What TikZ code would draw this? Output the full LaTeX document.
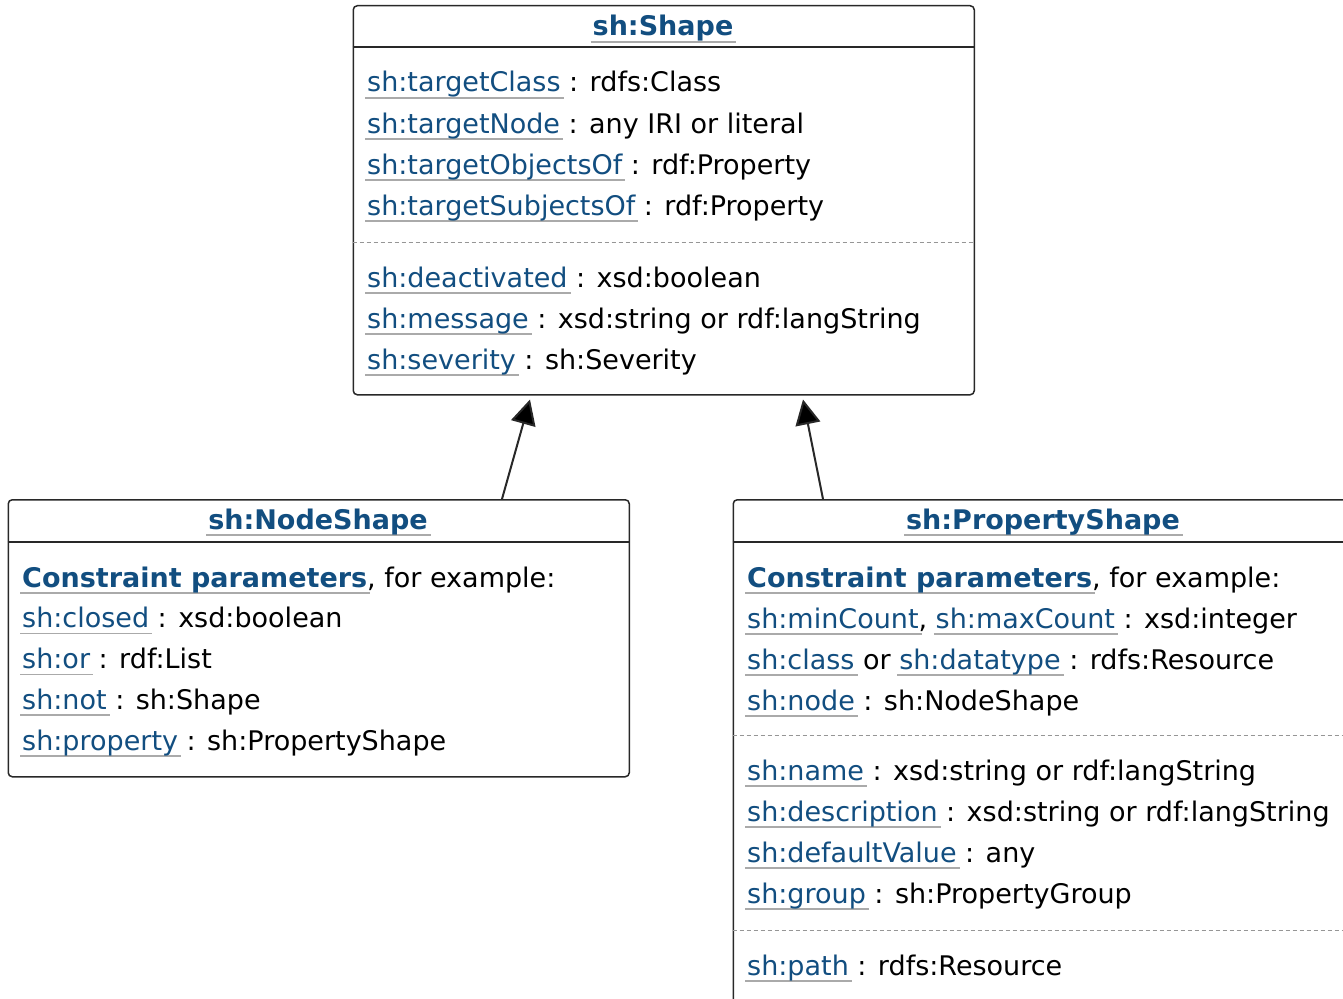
\documentclass[tikz,border=0pt]{standalone}
\usepackage{fontspec}
\setmainfont{DejaVu Sans}
\usetikzlibrary{arrows.meta}
\definecolor{linkc}{RGB}{18,78,128}
\definecolor{ulc}{RGB}{170,170,170}
\definecolor{framec}{RGB}{40,40,40}
\definecolor{dashc}{RGB}{150,150,150}
% underlined link text: the rule overhangs the word slightly on both sides
\newcommand\shlink[1]{\leavevmode\setbox0\hbox{{\color{linkc}#1}}%
  \rlap{\hspace{-2pt}{\color{ulc}\rule[-6.75pt]{\dimexpr\wd0+5pt\relax}{1.5pt}}}\box0\relax}
\newcommand\shlinkb[1]{\shlink{\bfseries #1}}
\tikzset{
  umlbox/.style={draw=framec, line width=1.5pt, rounded corners=4pt, fill=white,
    anchor=north west, minimum width=621pt, inner sep=0pt},
  hdrline/.style={draw=framec, line width=1.5pt},
  sepline/.style={draw=dashc, line width=1pt, dash pattern=on 4pt off 3pt},
  row/.style={anchor=base west, inner sep=0pt, text=black},
  title/.style={anchor=base, inner sep=0pt},
  inherit/.style={draw=framec, line width=2pt, -{Triangle[length=25pt,width=25pt,fill=black]}},
}
\begin{document}
\begin{tikzpicture}[x=1pt, y=-1pt, font=\fontsize{27pt}{41pt}\selectfont]
\useasboundingbox (0,0) rectangle (1343,998);
\clip (0,0) rectangle (1343,998);

% ---------------- sh:Shape ----------------
\node[umlbox, minimum height=389pt] (shape) at (352.5,5) {};
\draw[hdrline] ([yshift=-42pt]shape.north west) -- ([yshift=-42pt]shape.north east);
\node[title] (shape-t) at (663,36) {\shlinkb{sh:Shape}};
\node[row] (s1) at (367,92)  {\shlink{sh:targetClass} : rdfs:Class};
\node[row] (s2) at (367,133) {\shlink{sh:targetNode} : any IRI or literal};
\node[row] (s3) at (367,174) {\shlink{sh:targetObjectsOf} : rdf:Property};
\node[row] (s4) at (367,215) {\shlink{sh:targetSubjectsOf} : rdf:Property};
\draw[sepline] ([yshift=-237pt]shape.north west) -- ([yshift=-237pt]shape.north east);
\node[row] (s5) at (367,287) {\shlink{sh:deactivated} : xsd:boolean};
\node[row] (s6) at (367,328) {\shlink{sh:message} : xsd:string or rdf:langString};
\node[row] (s7) at (367,369) {\shlink{sh:severity} : sh:Severity};

% ---------------- sh:NodeShape ----------------
\node[umlbox, minimum height=277pt] (ns) at (7.5,499) {};
\draw[hdrline] ([yshift=-43pt]ns.north west) -- ([yshift=-43pt]ns.north east);
\node[title] (ns-t) at (318,529) {\shlinkb{sh:NodeShape}};
\node[row] (n1) at (22,587)   {\shlinkb{Constraint parameters}, for example:};
\node[row] (n2) at (22,627.7) {\shlink{sh:closed} : xsd:boolean};
\node[row] (n3) at (22,668.4) {\shlink{sh:or} : rdf:List};
\node[row] (n4) at (22,709)   {\shlink{sh:not} : sh:Shape};
\node[row] (n5) at (22,750)   {\shlink{sh:property} : sh:PropertyShape};

% ---------------- sh:PropertyShape ----------------
\node[umlbox, minimum height=503pt] (ps) at (732.5,499) {};
\draw[hdrline] ([yshift=-43pt]ps.north west) -- ([yshift=-43pt]ps.north east);
\node[title] (ps-t) at (1043,529) {\shlinkb{sh:PropertyShape}};
\node[row] (p1) at (747,587) {\shlinkb{Constraint parameters}, for example:};
\node[row] (p2) at (747,628) {\shlink{sh:minCount}, \shlink{sh:maxCount} : xsd:integer};
\node[row] (p3) at (747,669) {\shlink{sh:class} or \shlink{sh:datatype} : rdfs:Resource};
\node[row] (p4) at (747,710) {\shlink{sh:node} : sh:NodeShape};
\draw[sepline] ([yshift=-236pt]ps.north west) -- ([yshift=-236pt]ps.north east);
\node[row] (p5) at (747,780) {\shlink{sh:name} : xsd:string or rdf:langString};
\node[row] (p6) at (747,821) {\shlink{sh:description} : xsd:string or rdf:langString};
\node[row] (p7) at (747,862) {\shlink{sh:defaultValue} : any};
\node[row] (p8) at (747,903) {\shlink{sh:group} : sh:PropertyGroup};
\draw[sepline] ([yshift=-431pt]ps.north west) -- ([yshift=-431pt]ps.north east);
\node[row] (p9) at (747,975) {\shlink{sh:path} : rdfs:Resource};

% ---------------- generalisation arrows ----------------
\draw[inherit] ([xshift=494.5pt]ns.north west) -- ([xshift=177.5pt,yshift=-4pt]shape.south west);
\draw[inherit] ([xshift=90.5pt]ps.north west) -- ([xshift=450.5pt,yshift=-4pt]shape.south west);
\end{tikzpicture}
\end{document}
